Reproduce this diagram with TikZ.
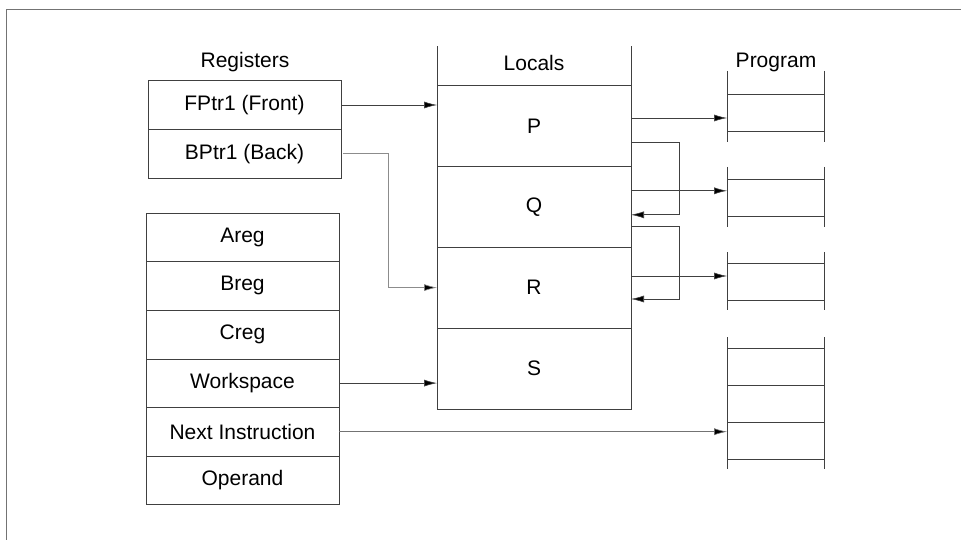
\documentclass[tikz,border=0pt]{standalone}
\usepackage{fontspec}
\setmainfont{Liberation Sans}
\usetikzlibrary{positioning,arrows.meta}

\begin{document}
\begin{tikzpicture}[x=1pt,y=-1pt]
    % Styles for cells and arrows
    \tikzset{
      cell/.style={rectangle, draw=black!75, line width=0.6pt, outer sep=0pt, inner sep=0pt, minimum width=193pt, minimum height=48.6pt, font=\fontsize{21}{25}\selectfont},
      local/.style={cell, minimum width=194pt, minimum height=80.8pt},
      slot/.style={rectangle, draw=black!75, line width=0.6pt, outer sep=0pt, minimum width=97pt, minimum height=37pt},
      title/.style={font=\fontsize{21}{25}\selectfont},
      rule/.style={draw=black!75, line width=0.6pt},
      arrow/.style={rule, -{Latex[length=13pt,width=7pt,fill=black]}}
    }
    \useasboundingbox (0,0) rectangle (961,540);
    \draw[black!55, line width=0.8pt] (6,540) -- (6,9) -- (961,9);

    % Registers
    \node[title] (regT) at (245,62) {Registers};
    \node[cell] (FPtr) at (244.5,105) {FPtr1 (Front)};
    \node[cell, below=0pt of FPtr] (BPtr) {BPtr1 (Back)};

    \node[cell] (Areg) at (242.5,237.3) {Areg};
    \node[cell, below=0pt of Areg] (Breg) {Breg};
    \node[cell, below=0pt of Breg] (Creg) {Creg};
    \node[cell, below=0pt of Creg] (Wspace) {Workspace};
    \node[cell, below=0pt of Wspace] (NextIns) {Next Instruction};
    \node[cell, below=0pt of NextIns] (Operand) {Operand};

    % Locals
    \node[title] (locT) at (534,63) {Locals};
    \node[local] (P) at (534,126) {P};
    \node[local, below=0pt of P] (Q) {Q};
    \node[local, below=0pt of Q] (R) {R};
    \node[local, below=0pt of R] (S) {S};
    \draw[rule] (P.north west) -- ++(0,-40);
    \draw[rule] (P.north east) -- ++(0,-40);

    % Program
    \node[title] (prgT) at (776,62) {Program};
    \node[slot] (prgA) at (775.5,112.5) {};
    \node[slot] (prgB) at (775.5,197.5) {};
    \node[slot] (prgC) at (775.5,281.5) {};
    \node[slot] (prgD) at (775.5,366.5) {};
    \node[slot, below=0pt of prgD] (prgE) {};
    \node[slot, below=0pt of prgE] (prgF) {};
    \foreach \n/\up/\dn in {prgA/23/11, prgB/12/11, prgC/11/10, prgD/11/0} {
      \draw[rule] ([yshift=\up]\n.north west) -- (\n.south west);
      \draw[rule] ([yshift=\up]\n.north east) -- (\n.south east);
      \draw[rule] (\n.south west) -- ([yshift=-\dn]\n.south west);
      \draw[rule] (\n.south east) -- ([yshift=-\dn]\n.south east);
    }
    \draw[rule] (prgF.south west) -- ([yshift=-10]prgF.south west);
    \draw[rule] (prgF.south east) -- ([yshift=-10]prgF.south east);

    % Arrows
    \draw[arrow] (FPtr.east) -- (FPtr.east -| P.west);
    \draw[arrow, draw=black!45] ([xshift=2]BPtr.east) -- ++(45,0) |- (R.west);
    \draw[arrow] (Wspace.east) -- (Wspace.east -| S.west);
    \draw[arrow, draw=black!55] (NextIns.east) -- (NextIns.east -| prgF.west);

    \draw[arrow] ([yshift=8]P.east) -- ([yshift=8]P.east -| prgA.west);
    \draw[arrow] ([yshift=16]Q.east) -- ([yshift=16]Q.east -| prgB.west);
    \draw[arrow] ([yshift=11.6]R.east) -- ([yshift=11.6]R.east -| prgC.west);

    \draw[arrow] ([yshift=-16]P.east) -- ++(48,0) |- ([yshift=-8]Q.east);
    \draw[arrow] ([yshift=-20]Q.east) -- ++(48,0) |- ([yshift=-11.4]R.east);

\end{tikzpicture}
\end{document}
